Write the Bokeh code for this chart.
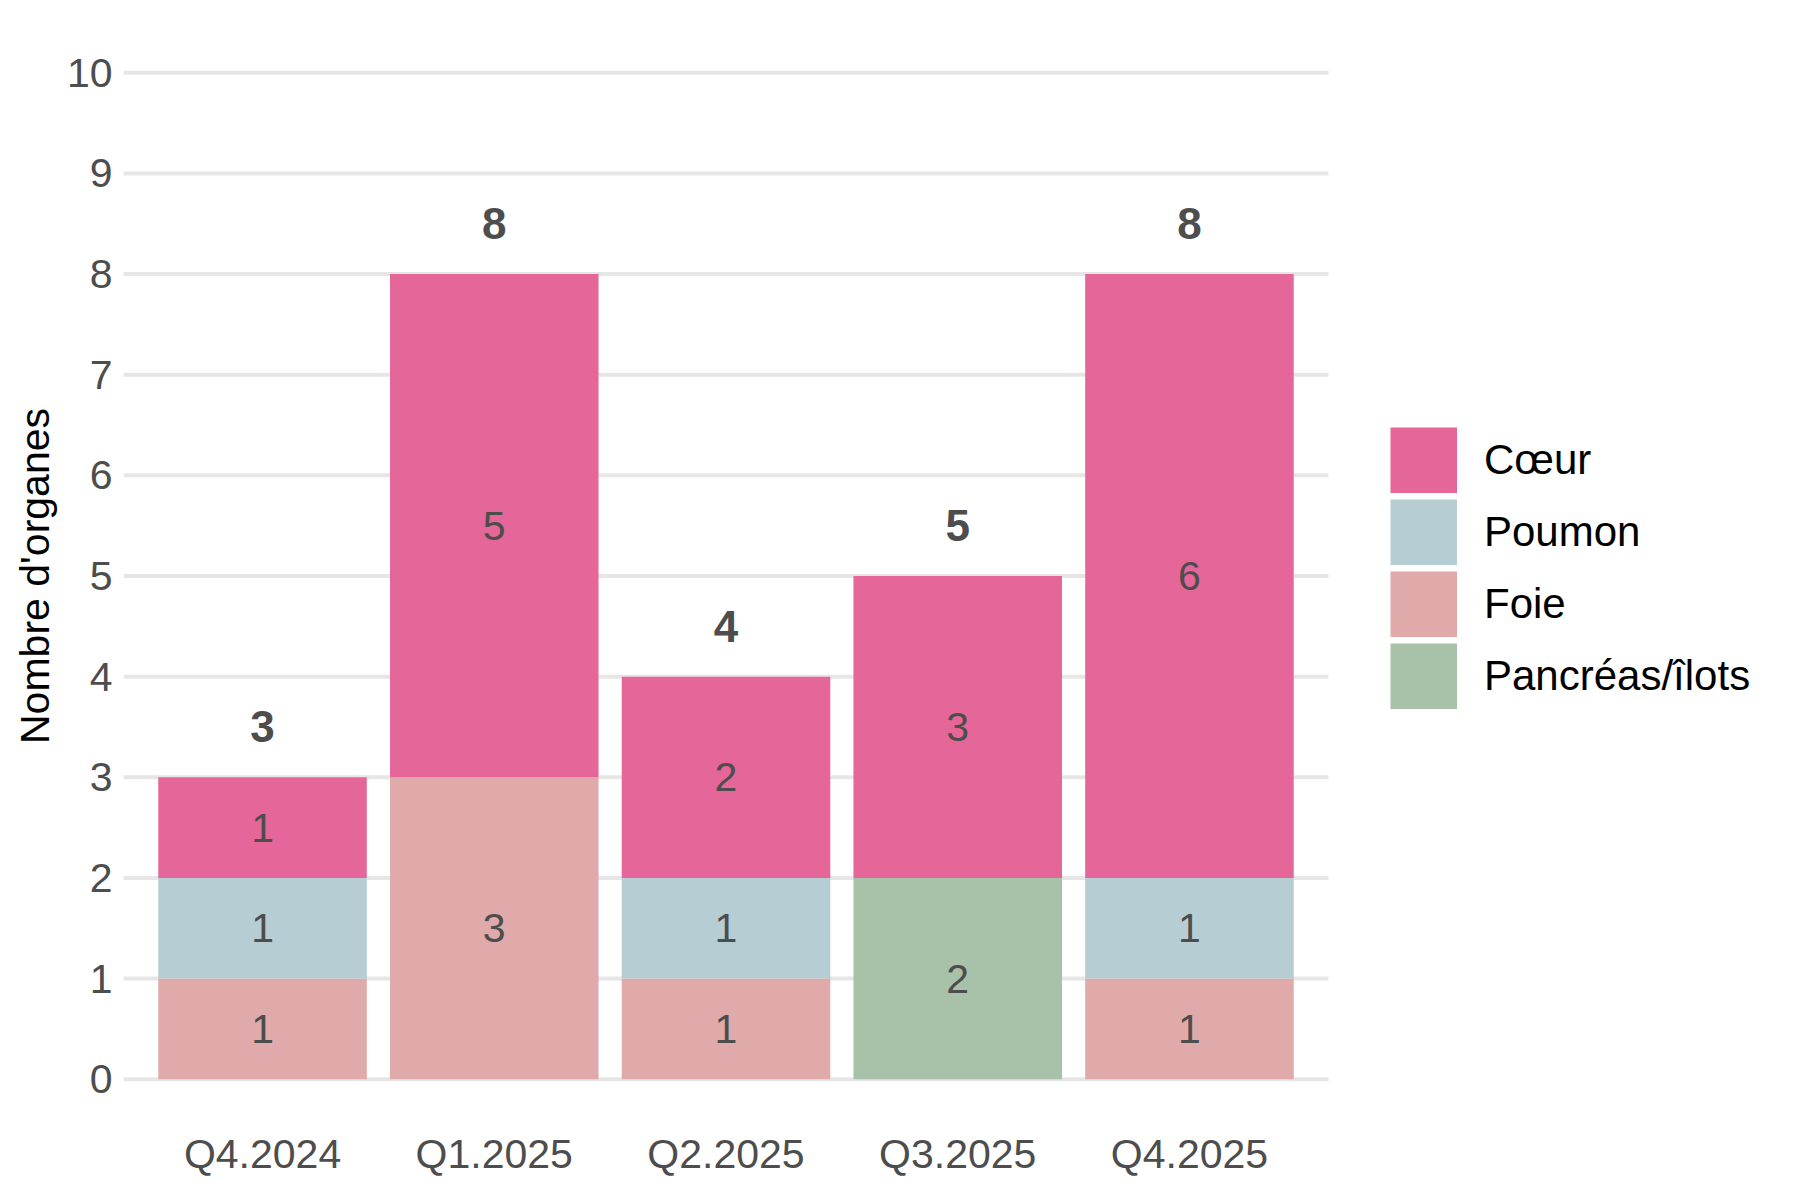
from bokeh.plotting import figure
from bokeh.models import ColumnDataSource, Range1d, FixedTicker, Legend, LegendItem
from bokeh.core.properties import value
from bokeh.embed import file_html
from bokeh.resources import INLINE

quarters = ["Q4.2024", "Q1.2025", "Q2.2025", "Q3.2025", "Q4.2025"]
organs = ["Pancréas/îlots", "Foie", "Poumon", "Cœur"]  # stacking order bottom -> top
pancreas = [0, 0, 0, 2, 0]
foie = [1, 3, 1, 0, 1]
poumon = [1, 0, 1, 0, 1]
coeur = [1, 5, 2, 3, 6]
colors = ["#A8C1A9", "#E0AAAA", "#B5CDD3", "#E56799"]
y_ticks = list(range(0, 11))

FONT = "Liberation Sans"

series = [pancreas, foie, poumon, coeur]
xpos = list(range(len(quarters)))
data = {"x": xpos}
for name, vals in zip(organs, series):
    data[name] = vals
src = ColumnDataSource(data)

W, H = 1784, 1184
LEFT, TOP, BOTTOM = 123, 22, 55
frame_w = W - LEFT
unit_px = 1205 / 5.2          # plot area spans the 5 categories plus 0.6 on each side
x_start = -0.6
x_end = x_start + frame_w / unit_px

p = figure(
    x_range=Range1d(x_start, x_end),
    y_range=Range1d(-0.5, 10.5),
    width=W, height=H,
    output_backend="svg", toolbar_location=None,
    min_border_left=LEFT, min_border_right=0, min_border_top=TOP, min_border_bottom=BOTTOM,
)
p.outline_line_color = None
p.background_fill_color = "white"

# horizontal grid lines limited to the data panel
p.segment(x0=[x_start] * len(y_ticks), x1=[len(quarters) - 1 + 0.6] * len(y_ticks),
          y0=y_ticks, y1=y_ticks, line_color="#E6E6E6", line_width=4)

renderers = p.vbar_stack(organs, x="x", width=0.9, color=colors, source=src, line_color=None)

# segment labels
lx, ly, lt = [], [], []
bottoms = [0] * len(quarters)
for vals in series:
    for i, v in enumerate(vals):
        if v > 0:
            lx.append(xpos[i])
            ly.append(bottoms[i] + v / 2)
            lt.append(str(v))
        bottoms[i] += v
p.text(x=lx, y=ly, text=lt, text_align="center", text_baseline="middle",
       text_font=value(FONT), text_font_size="41px", text_color="#4D4D4D")

totals = bottoms
p.text(x=xpos, y=[t + 0.5 for t in totals], text=[str(t) for t in totals],
       text_align="center", text_baseline="middle", text_font=value(FONT),
       text_font_size="44px", text_font_style="bold", text_color="#4D4D4D")

# axes
p.xaxis.ticker = FixedTicker(ticks=xpos)
p.xaxis.major_label_overrides = {i: q for i, q in zip(xpos, quarters)}
p.xaxis.axis_line_color = None
p.xaxis.major_tick_line_color = None
p.xaxis.minor_tick_line_color = None
p.xaxis.major_label_text_font = FONT
p.xaxis.major_label_text_font_size = "41px"
p.xaxis.major_label_text_color = "#4D4D4D"
p.xaxis.major_label_standoff = -5

p.yaxis.ticker = FixedTicker(ticks=y_ticks)
p.yaxis.axis_line_color = None
p.yaxis.major_tick_line_color = None
p.yaxis.minor_tick_line_color = None
p.yaxis.major_label_text_font = FONT
p.yaxis.major_label_text_font_size = "41px"
p.yaxis.major_label_text_color = "#4D4D4D"
p.yaxis.major_label_standoff = 5
p.yaxis.axis_label = "Nombre d'organes"
p.yaxis.axis_label_text_font = FONT
p.yaxis.axis_label_text_font_size = "41px"
p.yaxis.axis_label_text_font_style = "normal"
p.yaxis.axis_label_text_color = "black"
p.yaxis.axis_label_standoff = 6

p.xgrid.grid_line_color = None
p.ygrid.grid_line_color = None

# legend swatches: thick butt-capped lines (a single NaN point, nothing drawn in the plot)
nan = float("nan")
swatches = [p.line(x=[nan], y=[nan], line_color=c, line_width=66, line_cap="butt") for c in colors]

items = [LegendItem(label=organs[i], renderers=[renderers[i], swatches[i]]) for i in [3, 2, 1, 0]]
legend = Legend(items=items, location=(1267, 420), orientation="vertical",
                glyph_width=67, glyph_height=66, spacing=6, padding=0, margin=0,
                label_standoff=27, label_text_font=FONT, label_text_font_size="42px",
                label_text_color="black", border_line_color=None, background_fill_alpha=0,
                label_height=66)
p.add_layout(legend, "center")

open("out.html", "w").write(file_html(p, INLINE))
